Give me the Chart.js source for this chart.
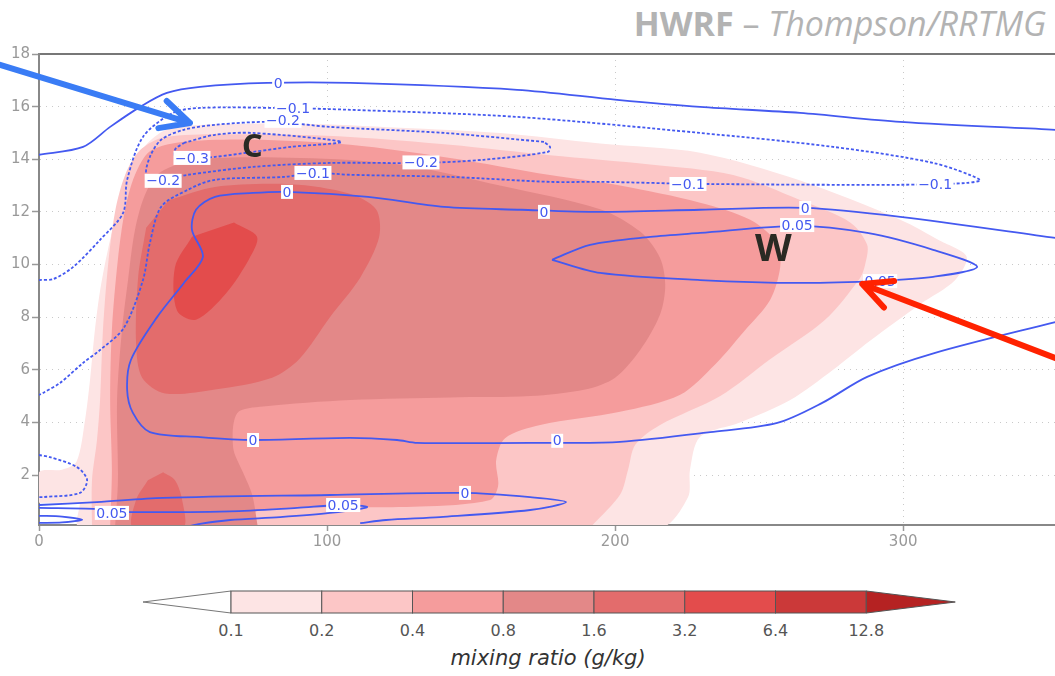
<!DOCTYPE html>
<html>
<head>
<meta charset="utf-8">
<script src="https://cdn.jsdelivr.net/npm/chart.js@4.4.1/dist/chart.umd.min.js"></script>
<style>
  html, body { margin: 0; padding: 0; background: #fff; width: 1055px; height: 676px; overflow: hidden; }
  #wrap { position: absolute; left: 0; top: 0; width: 1080px; height: 556px; }
  #title { position: absolute; top: 0px; right: 9px; font-family: "Open Sans", sans-serif; font-size: 34px; color: #b3b3b3; white-space: nowrap; }
  #title b { font-weight: 700; }
  #title i { font-style: italic; }
  #cbar { position: absolute; left: 0; top: 580px; }
</style>
</head>
<body>
<div id="title"><b>HWRF</b> – <i>Thompson/RRTMG</i></div>
<div id="wrap"><canvas id="chart" width="1080" height="556"></canvas></div>
<svg id="cbar" width="1055" height="96"></svg>
<script>
// axes (distance km, height km)
const xTicks = [0, 100, 200, 300];
const yTicks = [2, 4, 6, 8, 10, 12, 14, 16, 18];
const xMax = 360, yMin = 0.1, yMax = 18;

// mixing ratio shading levels (g/kg) and colours
const qLevels = ['0.1', '0.2', '0.4', '0.8', '1.6', '3.2', '6.4', '12.8'];
const qColors = ['#fde4e4', '#fcc6c6', '#f59c9c', '#e38888', '#e36c6c', '#e34c4c', '#cb3939', '#b52222'];

// outline of each shaded level, [x, z]
const q01 = [[0,0.95],[0,2.1],[8,2.2],[13,2.5],[16,4.1],[17.7,5.6],[19.4,7.5],[21.2,9.0],[24,10.6],[27.4,12.1],[31.6,13.6],[36.8,14.5],[43.8,15.1],[55.9,15.3],[90.6,15.35],[125.3,15.2],[160,15.0],[194.8,14.6],[229.5,14.25],[264,13.2],[299,11.7],[312.8,10.9],[322,10.3],[318,9.4],[306,8.5],[288.5,7.1],[275.7,6.0],[260.8,4.85],[243.4,4.0],[229.5,3.45],[226,2.2],[225.3,1.15],[215.6,0],[14.2,0],[14.2,0.95]];
const q02 = [[18.4,0],[18.4,1.8],[20.1,3.3],[21.2,4.85],[22.2,7.5],[24,10],[26.4,12],[29.9,13.4],[35.1,14.35],[43.8,14.85],[73.3,14.95],[108,14.85],[142.7,14.55],[177.4,14.15],[212.2,13.8],[241,13.4],[264.2,12.45],[281.6,11.6],[287.5,10.75],[286.8,10],[285.1,9.5],[272.9,7.9],[253.8,6.4],[236.5,5],[215.6,3.9],[207,3.15],[204.5,2.2],[201.7,1.25],[191.3,0]];
const q04 = [[24.7,0],[25.3,2.2],[24.7,4.85],[25.3,7.5],[27.4,10.2],[29.9,12.1],[33.3,13.4],[38.5,14.3],[49,14.65],[73.3,14.75],[108,14.55],[142.7,14.05],[177.4,13.4],[201.7,13],[229.5,12.35],[246.9,11.7],[256.3,10.8],[257.3,9.9],[253.8,8.65],[245.1,7.5],[234.7,6.2],[222.6,5.05],[201.7,4.4],[174,3.9],[161.8,3.4],[158.7,2.55],[159.4,1.6],[156.6,1.05],[132.3,0.8],[90.6,0.75],[75,0.6],[73.3,0]];
const q08 = [[26.4,0],[27.4,1.8],[27.1,4.85],[28.8,7.5],[30.9,9.4],[33.3,11.3],[36.8,12.65],[42,13.5],[55.9,14],[90.6,14.05],[125.3,13.8],[160,13],[194.8,12.1],[208.7,11.25],[215.6,10.25],[217.4,9.2],[215.6,8.1],[208.7,6.75],[200,5.7],[189.6,5.25],[170.5,5],[142.7,4.95],[108,4.85],[77.8,4.6],[68.8,4.35],[67.4,3.05],[70.8,2.1],[74,1.25],[76,0]];
const q16 = [[45.1,12.45],[61.1,12.95],[87.5,13.05],[107.6,12.7],[117,12.1],[118.1,11.05],[111.5,9.5],[101,8],[90.3,6.4],[80.9,5.7],[61.1,5.25],[43.8,5.1],[35.8,5.7],[33.7,7],[34.4,9.5],[37.2,11.4]];
const q16low = [[43.1,2.1],[47.2,1.8],[49.7,1.05],[50,0],[32.6,0],[33.7,1.05],[37.8,1.8]];
const q32 = [[67.7,11.6],[75.7,11.05],[72.9,10.2],[64.9,8.9],[54.5,7.9],[47.9,8.25],[47.2,9.9],[53.1,11.05]];

// contour lines of the second field, [x, z]
const c0top = [[0,14.17],[15.3,14.47],[24.7,15.23],[35.1,15.99],[44.4,16.52],[55.9,16.75],[79.2,16.9],[108,16.9],[166,16.64],[200.7,16.26],[229.5,15.99],[264.2,15.76],[299,15.42],[352.8,15.12],[360,15.08]];
const cm01 = [[0,9.41],[5,9.45],[11.8,9.9],[21.2,10.94],[29.2,11.96],[30.6,13.22],[36.1,14.85],[46.5,15.76],[55.9,15.95],[82.6,15.95],[108,15.88],[166,15.61],[229.5,15],[275.7,14.47],[310.4,13.86],[326.7,13.22],[322.2,13.1],[299,13.03],[231.9,13.06],[194.8,13.14],[177.4,13.14],[142.7,13.33],[108,13.41],[95.5,13.48],[85.1,13.33],[61.1,13.22],[51.7,12.84],[42.4,12.19],[38.5,10.82],[36.1,9.41],[29.5,7.6],[21.2,6.75],[15.3,6.26],[7.3,5.5],[1.4,5.12],[0,5.04]];
const cm02 = [[175.3,14.66],[140.6,15],[101,15.23],[80.9,15.42],[61.1,15.31],[50.3,15.12],[42.4,14.74],[38.5,14.09],[37.2,13.41],[40.3,13.2],[51.7,13.41],[74.3,13.71],[101,13.86],[132.6,13.86],[154.2,13.98],[176.7,14.28],[177.4,14.47],[175.3,14.66]];
const cm03 = [[50.3,14.62],[61.1,14.93],[74.3,15],[104.9,14.66],[87.5,14.47],[74.3,14.28],[61.1,14.09],[47.9,13.98],[47.2,14.36],[50.3,14.62]];
const c0mid = [[360,10.9],[352.8,11.01],[299,11.81],[266,12.15],[229.5,12.08],[194.8,12],[167.4,12.08],[140.6,12.19],[114.2,12.57],[86.1,12.76],[74.3,12.72],[61.1,12.57],[54.5,12.08],[53.1,11.32],[56.9,10.29],[50.3,9.3],[41,8],[31.9,6.37],[30.6,5.23],[32.6,4.36],[38.5,3.63],[55.9,3.44],[74.3,3.33],[108,3.41],[124.3,3.33],[131.3,3.22],[170.5,3.22],[180,3.22],[201.7,3.26],[233,3.63],[256.3,3.98],[271.9,4.74],[287.5,5.73],[311.1,6.64],[352.8,7.81],[360,8.0]];
const c005 = [[178.1,10.18],[191.3,10.75],[212.2,11.05],[229.5,11.2],[263.5,11.47],[287.5,11.2],[310.4,10.56],[325.7,9.91],[310.4,9.53],[292,9.38],[264.2,9.3],[229.5,9.41],[194.8,9.68],[178.1,10.18]];
const cm01low = [[0,2.76],[3.8,2.68],[13.2,2.3],[16.7,1.81],[14.2,1.32],[1.4,1.16],[0,1.16]];
const c0low = [[0,0.86],[20.1,0.97],[43.1,1.13],[101,1.24],[147.2,1.32],[170.5,1.16],[183,0.97],[170.5,0.67],[139.2,0.4],[120.5,0.29],[111.5,0.17]];
const c005low = [[0,0.75],[20.1,0.71],[25.3,0.6],[66.3,0.62],[89.6,0.75],[105.6,0.86],[113.9,0.78],[101,0.56],[83.7,0.4],[66.3,0.29],[55.9,0.14],[50,0]];
const c005tiny = [[0,0.45],[8,0.42],[15,0.3],[8,0.2],[0,0.18]];

// contour labels [x, z, text]
const lineLabels = [
  [83, 16.9, '0'], [88.2, 15.95, '−0.1'], [84.7, 15.46, '−0.2'], [53.1, 14.05, '−0.3'],
  [43.1, 13.18, '−0.2'], [95.1, 13.48, '−0.1'], [132.6, 13.88, '−0.2'], [225.3, 13.06, '−0.1'],
  [311.1, 13.03, '−0.1'], [86.1, 12.76, '0'], [175.3, 12.0, '0'], [266, 12.15, '0'],
  [263.2, 11.5, '0.05'], [292, 9.37, '0.05'], [74.3, 3.33, '0'], [179.9, 3.3, '0'],
  [147.9, 1.32, '0'], [105.6, 0.86, '0.05'], [25.3, 0.56, '0.05']
];

// annotations: letters and arrows
const letters = [[74, 14.43, 'C', 33], [254.9, 10.55, 'W', 38]];
const arrows = [
  { from: [-13.5, 17.59], to: [52.4, 15.38], color: '#3a7cf5' },
  { from: [362, 6.06], to: [285.8, 9.26], color: '#ff2200' }
];

const lineColor = '#4459f0';
const shading = [[q01, 0], [q02, 1], [q04, 2], [q08, 3], [q16, 4], [q16low, 4], [q32, 5]];
const contours = [[c0top, false], [cm01, true], [cm02, true], [cm03, true], [c0mid, false],
  [c005, false], [cm01low, true], [c0low, false], [c005low, false], [c005tiny, false]];

const toXY = pts => pts.map(([x, y]) => ({ x, y }));

const lineSets = contours.map(([pts, dashed]) => ({
  data: toXY(pts),
  borderColor: lineColor,
  borderWidth: 1.8,
  borderDash: dashed ? [3, 2] : [],
  pointRadius: 0,
  fill: false,
  tension: 0.3
}));
const fillSets = shading.map(([pts, lvl]) => ({
  data: toXY(pts),
  backgroundColor: qColors[lvl],
  borderColor: 'transparent',
  borderWidth: 0,
  pointRadius: 0,
  fill: 'shape',
  tension: 0.3
})).reverse();

const overlay = {
  id: 'overlay',
  afterDatasetsDraw(chart) {
    const { ctx, scales: { x, y } } = chart;
    ctx.save();
    ctx.font = '14px "DejaVu Sans", sans-serif';
    ctx.textAlign = 'center';
    ctx.textBaseline = 'middle';
    lineLabels.forEach(([lx, ly, t]) => {
      const px = x.getPixelForValue(lx), py = y.getPixelForValue(ly);
      const w = ctx.measureText(t).width + 3;
      ctx.fillStyle = '#fff';
      ctx.fillRect(px - w / 2, py - 7, w, 14);
      ctx.fillStyle = lineColor;
      ctx.fillText(t, px, py + 1);
    });
    ctx.restore();
  },
  afterDraw(chart) {
    const { ctx, scales: { x, y } } = chart;
    ctx.save();
    // letters C and W
    ctx.textAlign = 'center';
    ctx.textBaseline = 'middle';
    ctx.fillStyle = '#2a2a24';
    letters.forEach(([lx, ly, t, size]) => {
      ctx.font = '700 ' + size + 'px "Open Sans", sans-serif';
      ctx.fillText(t, x.getPixelForValue(lx), y.getPixelForValue(ly));
    });
    // arrows
    arrows.forEach(a => {
      const x0 = x.getPixelForValue(a.from[0]), y0 = y.getPixelForValue(a.from[1]);
      const x1 = x.getPixelForValue(a.to[0]), y1 = y.getPixelForValue(a.to[1]);
      const ang = Math.atan2(y0 - y1, x0 - x1);
      const head = 32, spread = 0.46;
      ctx.strokeStyle = a.color;
      ctx.lineWidth = 6;
      ctx.lineCap = 'round';
      ctx.lineJoin = 'round';
      ctx.beginPath();
      ctx.moveTo(x0, y0);
      ctx.lineTo(x1, y1);
      ctx.moveTo(x1 + head * Math.cos(ang + spread), y1 + head * Math.sin(ang + spread));
      ctx.lineTo(x1, y1);
      ctx.lineTo(x1 + head * Math.cos(ang - spread), y1 + head * Math.sin(ang - spread));
      ctx.stroke();
    });
    ctx.restore();
  }
};

const tickFont = { family: '"DejaVu Sans", sans-serif', size: 15 };

new Chart(document.getElementById('chart').getContext('2d'), {
  type: 'line',
  data: { datasets: [...lineSets, ...fillSets] },
  options: {
    responsive: false,
    animation: false,
    events: [],
    layout: { padding: { top: 54, right: 4, left: 0, bottom: 0 } },
    plugins: { legend: { display: false }, tooltip: { enabled: false } },
    scales: {
      x: {
        type: 'linear', position: 'bottom', min: 0, max: xMax,
        afterBuildTicks: s => { s.ticks = xTicks.map(v => ({ value: v })); },
        afterFit: s => { s.height = 31; },
        ticks: { color: '#999', font: tickFont, padding: 2, maxRotation: 0 },
        grid: { color: '#c9c9c9', lineWidth: 1, tickLength: 6, tickColor: '#999', tickWidth: 1.5 },
        border: { color: '#888', width: 2, dash: [1, 5] }
      },
      x2: {
        type: 'linear', position: 'top', min: 0, max: xMax,
        afterFit: s => { s.height = 0; },
        ticks: { display: false },
        grid: { drawOnChartArea: false, drawTicks: false },
        border: { color: '#777', width: 2 }
      },
      y: {
        type: 'linear', min: yMin, max: yMax,
        afterBuildTicks: s => { s.ticks = yTicks.map(v => ({ value: v })); },
        afterFit: s => { s.width = 39; },
        ticks: { color: '#999', font: tickFont, padding: 2 },
        grid: { color: '#c9c9c9', lineWidth: 1, tickLength: 7, tickColor: '#999', tickWidth: 1.5 },
        border: { color: '#888', width: 2, dash: [1, 5] }
      }
    }
  },
  plugins: [overlay]
});

// colour bar
const cbar = document.getElementById('cbar');
const SVGNS = 'http://www.w3.org/2000/svg';
function svgEl(tag, attrs, text) {
  const el = document.createElementNS(SVGNS, tag);
  for (const k in attrs) el.setAttribute(k, attrs[k]);
  if (text) el.textContent = text;
  cbar.appendChild(el);
  return el;
}
const cbX0 = 231, boxW = 90.75, barTop = 11, barH = 22;
const nBoxes = qColors.length - 1;
const cbX1 = cbX0 + nBoxes * boxW;
svgEl('polygon', { points: `143,${barTop + barH / 2} ${cbX0},${barTop} ${cbX0},${barTop + barH}`, fill: '#fff', stroke: '#777', 'stroke-width': 1 });
for (let i = 0; i < nBoxes; i++) {
  svgEl('rect', { x: cbX0 + i * boxW, y: barTop, width: boxW, height: barH, fill: qColors[i], stroke: '#555', 'stroke-width': 1 });
}
svgEl('polygon', { points: `${cbX1},${barTop} ${cbX1 + 89},${barTop + barH / 2} ${cbX1},${barTop + barH}`, fill: qColors[nBoxes], stroke: '#555', 'stroke-width': 1 });
qLevels.forEach((t, i) => {
  svgEl('text', { x: cbX0 + i * boxW, y: 56, 'text-anchor': 'middle', 'font-family': 'DejaVu Sans, sans-serif', 'font-size': 16, fill: '#555' }, t);
});
svgEl('text', { x: 548, y: 85, 'text-anchor': 'middle', 'font-family': 'DejaVu Sans, sans-serif', 'font-size': 21, 'font-style': 'italic', fill: '#333' }, 'mixing ratio (g/kg)');
</script>
</body>
</html>
